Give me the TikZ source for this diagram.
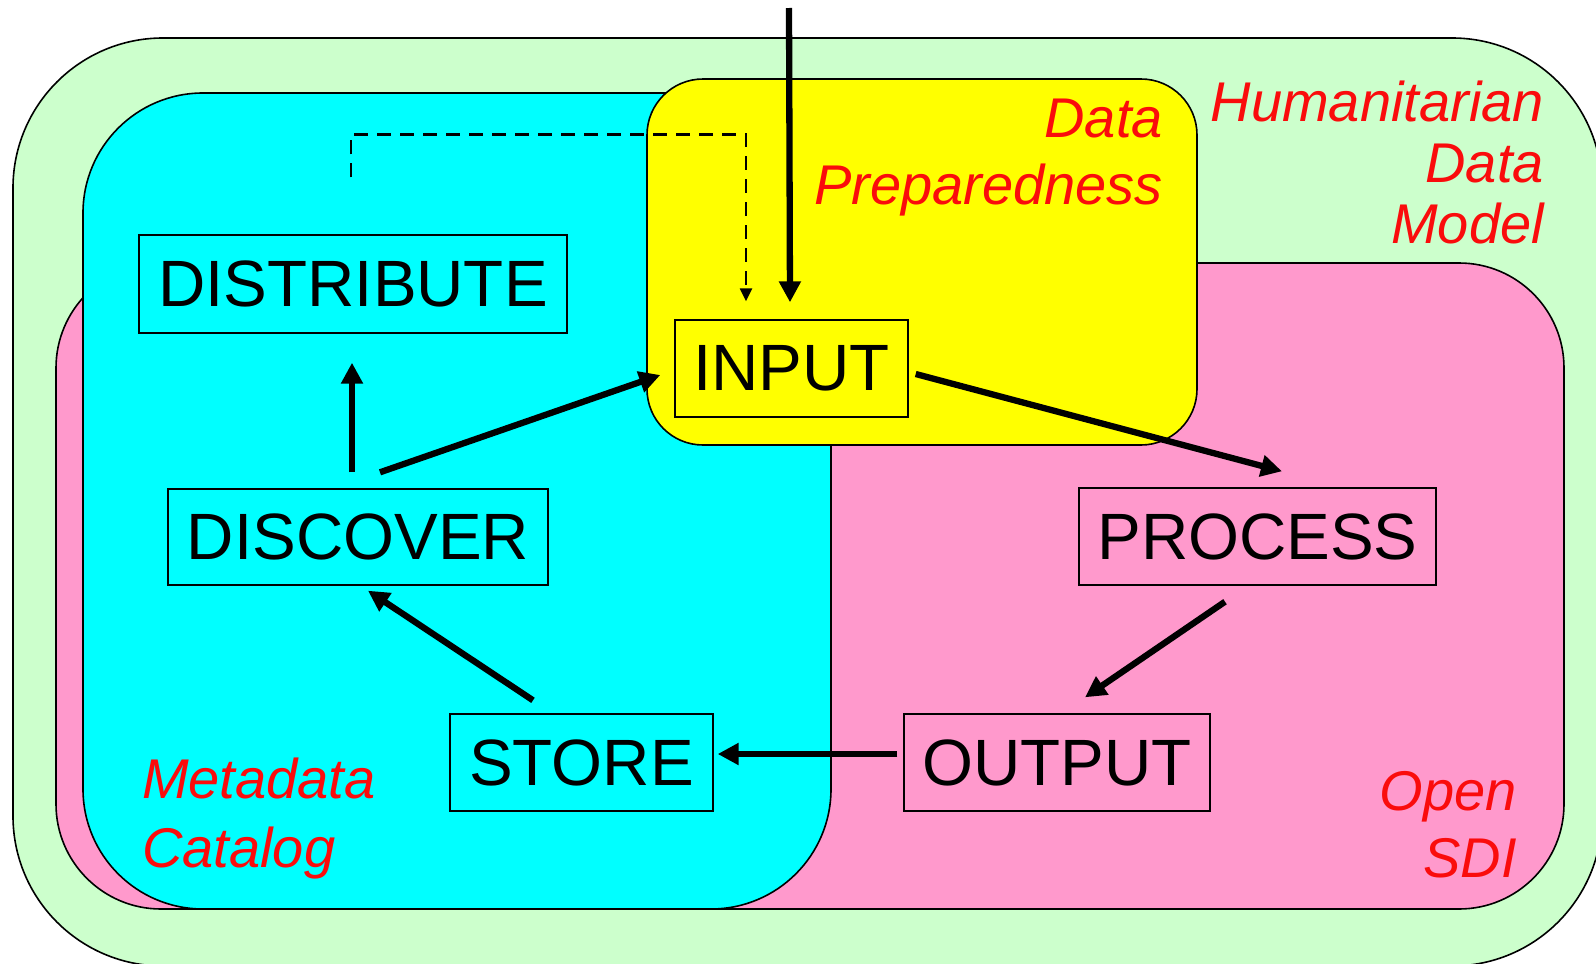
\documentclass[tikz,border=0pt]{standalone}
\usepackage{fontspec}
\setmainfont{Liberation Sans}
\usetikzlibrary{arrows.meta}
\definecolor{hgreen}{RGB}{204,255,204}
\definecolor{hcyan}{RGB}{0,255,255}
\definecolor{hpink}{RGB}{255,153,204}
\definecolor{hyellow}{RGB}{255,255,0}
\definecolor{hred}{RGB}{250,12,12}
\begin{document}
\begin{tikzpicture}[x=1pt,y=-1pt,
  region/.style={draw=black, line width=1.6pt},
  box/.style={draw=black, line width=1.4pt, inner sep=0pt, font=\fontsize{65.5}{66}\selectfont},
  arr/.style={line width=6.3pt, -{Triangle[length=21pt,width=21pt]}},
  dasharr/.style={line width=2.4pt, dash pattern=on 14pt off 9pt, -{Triangle[length=13pt,width=12pt]}},
  lbl/.style={text=hred, inner sep=0pt}]
\useasboundingbox (0,0) rectangle (1596,964);
\clip (0,0) rectangle (1596,964);
% regions
\draw[region, fill=hgreen, rounded corners=150pt] (13,38) rectangle (1602,966);
\draw[region, fill=hpink, rounded corners=105pt] (56,263) rectangle (1564,909);
\draw[region, fill=hcyan, rounded corners=120pt] (83,93) rectangle (831,909);
\draw[region, fill=hyellow, rounded corners=56pt] (647,79) rectangle (1197,445);
% labels (base anchor = baseline of last line)
\node[lbl, align=right, anchor=base east, font=\itshape\fontsize{56}{61}\selectfont] (hdm) at (1544,243) {Humanitarian\\Data\\Model};
\node[lbl, align=right, anchor=base east, font=\itshape\fontsize{56}{67}\selectfont] (dp) at (1163,204) {Data\\Preparedness};
\node[lbl, align=left, anchor=base west, font=\itshape\fontsize{56}{69}\selectfont] (mc) at (142,867) {Metadata\\Catalog};
\node[lbl, align=right, anchor=base east, font=\itshape\fontsize{56}{67}\selectfont] (osdi) at (1517,877) {Open\\SDI};
% boxes
\node[box, minimum width=428pt, minimum height=98pt] (distribute) at (353,284) {DISTRIBUTE};
\node[box, minimum width=233pt, minimum height=97pt] (input) at (791.5,368.5) {INPUT};
\node[box, minimum width=380pt, minimum height=96pt] (discover) at (358,537) {DISCOVER};
\node[box, minimum width=357pt, minimum height=97pt] (process) at (1257.5,536.5) {PROCESS};
\node[box, minimum width=263pt, minimum height=97pt] (store) at (581.5,762.5) {STORE};
\node[box, minimum width=306pt, minimum height=97pt] (output) at (1057,762.5) {OUTPUT};
% connectors
\coordinate (src) at (789,8);
\draw[arr] (src) -- ([shift={(-1.5,-17)}]input.north);
\draw[dasharr] ([shift={(-2,-57)}]distribute.north) -- ++(0,-43) -| ([shift={(-45.5,-18)}]input.north);
\draw[arr] ([shift={(-6,-16)}]discover.north) -- ([shift={(-1,29)}]distribute.south);
\draw[arr] ([shift={(22,-16)}]discover.north) -- ([shift={(-14,6.5)}]input.west);
\draw[arr] ([shift={(7,5.5)}]input.east) -- ([shift={(24.5,-16)}]process.north);
\draw[arr] ([shift={(-32.5,16)}]process.south) -- ([shift={(28,-16)}]output.north);
\draw[arr] ([shift={(-6,-8.5)}]output.west) -- ([shift={(4,-8.5)}]store.east);
\draw[arr] ([shift={(-48.5,-13)}]store.north) -- ([shift={(10,5)}]discover.south);
\end{tikzpicture}
\end{document}
